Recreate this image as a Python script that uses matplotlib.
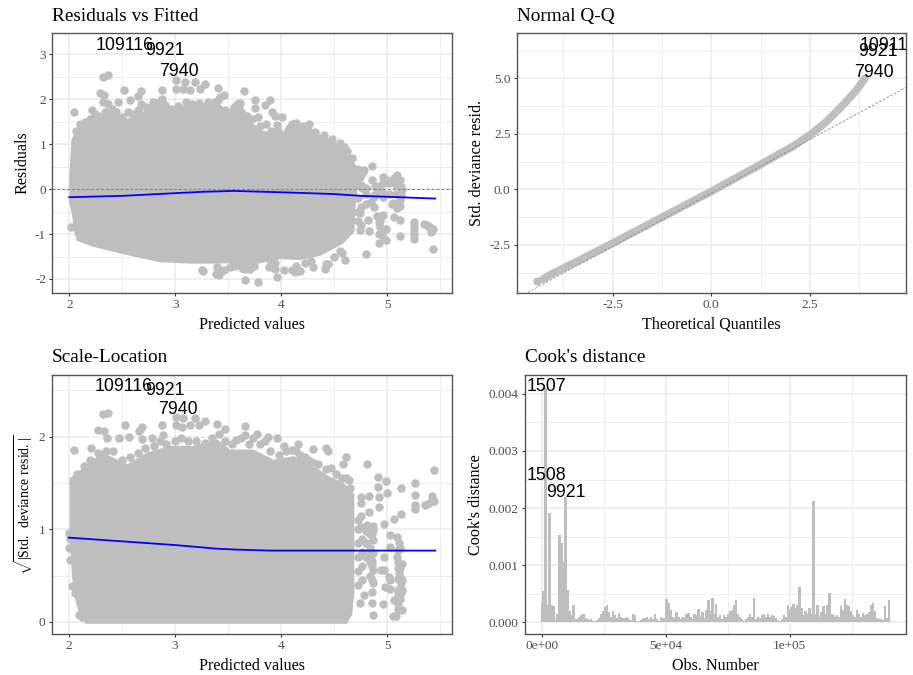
"""
Regression diagnostic panels: residuals, Q-Q, scale-location and Cook's distance.
"""

import numpy as np
import matplotlib
matplotlib.use('Agg')
import matplotlib.pyplot as plt

plt.rcParams['font.family'] = ['Liberation Serif', 'DejaVu Serif']
plt.rcParams['mathtext.fontset'] = 'custom'
plt.rcParams['mathtext.rm'] = 'Liberation Serif'

GREY = '#BEBEBE'
FIG_W, FIG_H = 913, 675

# Residuals vs Fitted: outline of the solid cloud
res_top_x = [2.0, 2.02, 2.1, 2.22, 2.38, 2.54, 2.69, 2.85, 2.98, 3.11, 3.26, 3.39, 3.49, 3.58, 3.68, 3.83, 3.99, 4.11, 4.25, 4.34, 4.49, 4.58, 4.68, 4.72, 4.77]
res_top_y = [0.3, 1.1, 1.5, 1.58, 1.72, 1.56, 1.72, 1.88, 1.74, 1.9, 1.88, 1.98, 1.72, 1.8, 1.55, 1.3, 1.23, 1.43, 1.43, 1.25, 1.07, 0.96, 0.67, 0.4, 0.0]
res_low_x = [2.0, 2.03, 2.04, 2.07, 2.22, 2.51, 2.86, 3.17, 3.3, 3.51, 3.66, 3.8, 3.99, 4.18, 4.37, 4.58, 4.69, 4.7, 4.72]
res_low_y = [-0.3, -0.62, -0.87, -1.15, -1.28, -1.45, -1.63, -1.66, -1.66, -1.65, -1.72, -1.65, -1.56, -1.58, -1.48, -1.22, -0.95, -0.4, 0.0]
# points standing out of the cloud
res_pts_x = [2.32, 2.37, 2.29, 2.33, 2.52, 2.68, 2.65, 2.04, 2.21, 2.24, 2.32, 2.37, 2.46, 2.57, 2.68, 2.79, 2.87, 2.87, 3.01, 3.01, 3.07, 3.09, 3.19, 3.28, 3.23, 3.14, 3.46, 3.4, 3.4, 3.31, 3.58, 3.65, 3.55, 3.61, 3.75, 3.75, 3.78, 3.85, 3.89, 3.91, 3.94, 4.01, 3.86, 3.96, 4.07, 4.59,
             2.06, 2.1, 2.15, 2.2, 2.27, 2.34, 2.4, 2.44, 2.5, 2.55, 2.6, 2.65, 2.72, 2.78, 2.83, 2.9, 2.96, 3.03, 3.1, 3.16, 3.22, 3.3, 3.37, 3.42, 3.47, 3.53, 3.6, 3.63, 3.68, 3.72, 3.8, 3.9, 3.97, 4.05, 4.1, 4.14, 4.2, 4.26, 4.32, 4.4, 4.48, 4.55, 4.62, 4.67, 4.72, 4.76,
             3.66, 3.78, 3.96, 3.41, 3.39, 3.52, 3.25, 3.66, 3.94, 4.03, 4.13, 4.18, 4.3, 4.41, 4.44, 4.57, 4.6, 2.02,
             3.26, 3.38, 3.42, 3.46, 3.55, 3.59, 3.63, 3.7, 3.74, 3.88, 3.9, 3.94, 4.1, 4.14, 4.22, 4.28, 4.42, 4.5, 4.55,
             4.74, 4.78, 4.86, 4.86, 4.96, 5.09, 5.12, 5.14, 5.12, 5.09, 5.04, 4.96, 4.93, 4.87, 4.87, 4.8, 4.96, 5.06, 5.12, 4.74, 4.82, 4.74, 4.83, 4.92, 4.96, 4.99, 4.92, 4.99, 4.92, 4.8, 5.12, 5.25, 5.25, 5.25, 5.35, 5.4, 5.43, 5.41, 5.43,
             4.75, 4.72, 4.75, 4.72, 4.75, 4.72, 4.76, 4.8, 4.88, 4.95, 5.02, 5.08, 5.13, 4.8, 4.88, 4.95, 5.02, 5.08, 5.13, 4.85, 5.05, 5.12, 5.0, 5.06, 5.1, 4.9, 4.93, 4.93, 4.95, 4.95, 5.25, 5.25, 5.37, 5.38]
res_pts_y = [2.5, 2.53, 2.13, 2.1, 2.2, 2.18, 2.08, 1.71, 1.76, 1.68, 1.94, 1.9, 1.94, 1.98, 1.9, 1.94, 2.01, 2.2, 2.42, 2.22, 2.22, 2.38, 2.38, 2.34, 2.22, 2.2, 2.1, 2.25, 1.98, 1.94, 1.9, 2.19, 1.83, 1.91, 1.98, 1.8, 1.61, 1.87, 1.98, 1.72, 1.63, 1.61, 1.46, 1.43, 1.37, 0.94,
             1.3, 1.45, 1.5, 1.55, 1.62, 1.72, 1.78, 1.72, 1.6, 1.72, 1.68, 1.75, 1.82, 1.85, 1.92, 1.88, 1.78, 1.85, 1.95, 1.9, 1.92, 1.88, 1.95, 2.05, 1.75, 1.72, 1.8, 1.7, 1.62, 1.55, 1.4, 1.3, 1.3, 1.28, 1.45, 1.48, 1.4, 1.45, 1.28, 1.2, 1.12, 1.02, 0.85, 0.7, 0.45, 0.35,
             -2.03, -2.06, -1.95, -1.92, -1.73, -1.73, -1.8, -1.77, -1.77, -1.79, -1.84, -1.82, -1.73, -1.77, -1.66, -1.43, -1.58, -0.84,
             -1.82, -1.88, -1.8, -1.8, -1.7, -1.68, -1.75, -1.77, -1.7, -1.73, -1.62, -1.65, -1.8, -1.72, -1.65, -1.6, -1.66, -1.5, -1.38,
             0.27, 0.42, 0.52, 0.2, 0.27, 0.31, 0.2, -0.02, -0.24, -0.43, -0.32, -0.17, -0.02, -0.17, -0.39, -0.32, -0.58, -0.62, -0.68, -0.54, -0.69, -0.91, -0.93, -0.76, -0.88, -0.88, -0.99, -1.14, -1.21, -1.45, -1.05, -0.73, -0.91, -1.1, -0.78, -0.84, -0.88, -0.95, -1.34,
             0.1, -0.2, -0.4, -0.7, -0.8, -0.5, 0.02, 0.02, 0.08, 0.12, 0.14, 0.1, 0.05, -0.1, -0.1, -0.08, -0.1, -0.1, -0.12, -0.28, -0.3, -0.38, 0.2, 0.24, 0.18, -0.6, -0.7, -0.85, -0.6, -1.02, -0.82, -1.0, -0.8, -0.82]
res_line_x = [2.0, 2.5, 3.0, 3.25, 3.55, 4.0, 4.5, 4.75, 5.0, 5.45]
res_line_y = [-0.18, -0.15, -0.09, -0.06, -0.04, -0.07, -0.11, -0.15, -0.17, -0.21]

# Normal Q-Q
qq_x = [-4.26, -4.09, -3.41, -2.5, -1.3, 0.0, 1.23, 2.08, 2.5, 2.92, 3.34, 3.68, 3.89]
qq_y = [-4.05, -3.86, -3.26, -2.43, -1.31, -0.1, 1.1, 1.95, 2.45, 3.05, 3.8, 4.47, 5.0]
qq_lone_x = [-4.42]
qq_lone_y = [-4.13]
qq_ref_x = [-4.93, 4.93]
qq_ref_y = [-4.92, 4.59]

# Scale-Location
sl_top_x = [2.01, 2.11, 2.23, 2.32, 2.55, 2.74, 2.95, 3.17, 3.4, 3.52, 3.74, 3.93, 4.12, 4.28, 4.44, 4.59, 4.69]
sl_top_y = [1.55, 1.64, 1.75, 1.83, 1.7, 1.83, 1.9, 1.9, 1.97, 1.86, 1.86, 1.75, 1.79, 1.7, 1.58, 1.5, 1.38]
sl_low_x = [2.01, 2.03, 2.06, 2.1, 2.16, 4.62, 4.67, 4.69]
sl_low_y = [0.9, 0.5, 0.25, 0.08, -0.02, -0.02, 0.08, 0.31]
sl_pts_x = [2.01, 2.0, 2.0, 2.01, 2.03, 2.05, 2.06, 2.32, 2.37, 2.28, 2.33, 2.53, 2.69, 2.66, 2.21, 2.36, 2.47, 2.57, 2.69, 2.78, 2.88, 2.89, 3.01, 3.08, 3.19, 3.28, 3.23, 3.14, 3.01, 3.07, 3.4, 3.47, 3.66, 3.66, 3.77, 3.74, 3.88, 3.96, 3.85, 4.03, 4.16, 4.14, 4.3, 4.42, 4.44, 4.23, 4.29, 4.47, 4.61, 4.58, 4.61, 4.64,
            2.04, 2.08, 2.14, 2.2, 2.28, 2.35, 2.42, 2.5, 2.58, 2.65, 2.72, 2.8, 2.86, 2.92, 3.0, 3.06, 3.12, 3.2, 3.28, 3.35, 3.42, 3.47, 3.54, 3.58, 3.62, 3.7, 3.8, 3.9, 3.98, 4.05, 4.1, 4.18, 4.25, 4.35, 4.42, 4.52, 4.57, 4.65,
            4.81, 4.91, 4.99, 4.91, 5.0, 4.92, 4.83, 4.75, 4.75, 5.13, 5.26, 5.26, 5.26, 5.26, 5.44, 5.42, 5.44, 5.36, 5.39, 5.13, 5.06, 4.97, 4.92, 4.83, 4.75, 4.81, 4.87, 5.03, 5.09, 5.11, 5.03, 4.87, 4.87, 4.97, 5.09, 5.14, 5.11, 4.97, 5.02, 5.13, 4.98, 5.13, 5.06, 5.14, 4.96, 4.78, 4.87, 5.05, 5.08, 4.87, 4.87,
            4.72, 4.72, 4.72, 4.72, 4.72, 4.76, 4.76, 4.76, 4.76, 4.8, 4.8, 4.84, 4.84, 4.84, 4.84, 4.72, 4.74, 4.86, 4.86, 4.87, 5.12, 5.12, 5.14, 5.12, 5.1, 5.1, 5.12, 5.14,
            4.86, 4.86, 4.86, 4.86, 5.1, 5.1, 5.1, 5.1, 5.1, 5.1, 5.03, 5.03, 4.94, 4.75, 4.8, 4.84, 2.1, 2.13]
sl_pts_y = [0.9, 0.96, 0.8, 0.67, 0.39, 1.86, 0.31, 2.24, 2.26, 2.07, 2.06, 2.12, 2.1, 2.06, 1.88, 1.98, 1.98, 2.0, 1.97, 1.99, 2.12, 2.02, 2.21, 2.2, 2.2, 2.17, 2.13, 2.13, 2.12, 2.1, 2.14, 2.08, 2.11, 2.02, 2.03, 1.98, 2.0, 1.98, 1.95, 1.9, 1.92, 1.84, 1.87, 1.88, 1.84, 1.78, 1.73, 1.66, 1.78, 1.7, 1.55, 1.53,
            1.5, 1.6, 1.68, 1.75, 1.82, 1.85, 1.85, 1.75, 1.78, 1.82, 1.88, 1.9, 1.95, 1.92, 1.95, 1.98, 1.95, 1.95, 1.93, 1.98, 2.03, 1.95, 1.92, 1.96, 1.98, 1.92, 1.92, 1.84, 1.8, 1.85, 1.86, 1.8, 1.75, 1.7, 1.65, 1.6, 1.55, 1.45,
            1.7, 1.56, 1.52, 1.46, 1.39, 1.35, 1.36, 1.35, 1.28, 1.45, 1.5, 1.37, 1.26, 1.22, 1.64, 1.36, 1.3, 1.26, 1.28, 1.17, 1.11, 1.06, 1.24, 1.19, 1.14, 1.05, 0.99, 0.94, 0.92, 0.85, 0.81, 0.88, 0.74, 0.7, 0.7, 0.63, 0.53, 0.56, 0.49, 0.42, 0.38, 0.31, 0.24, 0.13, 0.19, 0.29, 0.08, 0.06, 0.06, 0.56, 0.42,
            0.4, 0.55, 0.7, 0.85, 1.0, 0.45, 0.6, 0.75, 0.9, 0.7, 0.85, 0.8, 0.95, 0.65, 0.5, 1.1, 0.2, 0.66, 0.95, 1.03, 0.58, 0.48, 0.35, 0.8, 0.35, 0.65, 0.25, 0.45,
            0.6, 0.45, 0.32, 0.2, 0.78, 0.58, 0.46, 0.3, 0.2, 0.14, 0.45, 0.36, 0.56, 1.02, 0.98, 0.72, 0.08, 0.05]
sl_line_x = [2.0, 2.5, 3.0, 3.4, 3.6, 3.9, 5.45]
sl_line_y = [0.91, 0.87, 0.83, 0.79, 0.78, 0.77, 0.77]

# Cook's distance, in units of 0.001, one bar every 800 observations
cook_step = 800
cook_vals = [
    .35, .55, 4.1, .3, 1.92, .3, .28, .05, .15, 1.52,
    1.38, 1.05, 2.2, .57, .2, .12, .3, .05, .06, .1,
    .12, .15, .08, .06, .04, .05, .03, .02, .04, .08,
    .15, .2, .27, .3, .18, .1, .2, .12, .08, .16,
    .1, .08, .07, .1, .06, .04, .14, .12, .03, .02,
    .04, .08, .07, .09, .06, .1, .05, .15, .06, .02,
    .1, .08, .07, .4, .33, .22, .1, .07, .18, .09,
    .06, .1, .08, .14, .17, .1, .05, .15, .12, .24,
    .1, .18, .08, .22, .39, .2, .42, .15, .32, .1,
    .12, .06, .12, .1, .14, .2, .22, .3, .39, .15,
    .1, .06, .03, .05, .1, .15, .1, .42, .05, .1,
    .08, .12, .14, .1, .14, .1, .13, .11, .07, .04,
    .03, .05, .13, .1, .3, .22, .27, .32, .25, .3,
    .62, .25, .12, .2, .15, .25, .15, 2.12, .14, .3,
    .1, .18, .28, .15, .3, .52, .14, .12, .1, .12,
    .1, .28, .22, .4, .3, .28, .2, .13, .1, .22,
    .15, .1, .17, .12, .15, .18, .3, .33, .2, .08,
    .05, .06, .04, .28, .07, .39,
]

res_labels = ['109116', '9921', '7940']
res_label_x = [2.52, 2.9, 3.03]
res_label_y = [3.19, 3.08, 2.61]
qq_labels = ['109116', '9921', '7940']
qq_label_x = [4.49, 4.23, 4.13]
qq_label_y = [6.5, 6.2, 5.27]
sl_labels = ['109116', '9921', '7940']
sl_label_x = [2.52, 2.91, 3.03]
sl_label_y = [2.54, 2.5, 2.29]
cook_labels = ['1507', '1508', '9921']
cook_label_x = [1750, 1750, 9810]
cook_label_y = [0.00413, 0.00257, 0.00228]


# make an axes from pixel edges and give it the ggplot theme_bw look
def panel(left, right, top, bottom, xlim, ylim, xticks, xlabels, yticks, ylabels, title, xlabel, ylabel, ylabel_size=11.6):
    ax = fig.add_axes([left / FIG_W, 1 - bottom / FIG_H, (right - left) / FIG_W, (bottom - top) / FIG_H])
    ax.set_xlim(xlim)
    ax.set_ylim(ylim)
    ax.set_xticks(xticks, xlabels)
    ax.set_yticks(yticks, ylabels)
    # minor gridlines sit half a break away from the major ones
    xgap = (xticks[1] - xticks[0]) / 2
    ygap = (yticks[1] - yticks[0]) / 2
    xminor = [v - xgap for v in xticks] + [xticks[-1] + xgap]
    yminor = [v - ygap for v in yticks] + [yticks[-1] + ygap]
    ax.set_xticks([v for v in xminor if xlim[0] < v < xlim[1]], minor=True)
    ax.set_yticks([v for v in yminor if ylim[0] < v < ylim[1]], minor=True)
    ax.grid(True, which='major', color='#EBEBEB', lw=1.1)
    ax.grid(True, which='minor', color='#EBEBEB', lw=0.6)
    ax.set_axisbelow(True)
    ax.tick_params(which='minor', length=0)
    ax.tick_params(which='major', length=2.5, width=0.8, color='#333333', labelcolor='#4D4D4D', labelsize=9.5, pad=2)
    for s in ax.spines.values():
        s.set_color('#555555')
        s.set_linewidth(1.0)
    ax.set_xlabel(xlabel, fontsize=11.6, labelpad=4)
    ax.set_ylabel(ylabel, fontsize=ylabel_size, labelpad=3)
    ax.set_title(title, loc='left', fontsize=13.9, pad=9)
    return ax


def add_labels(ax, names, xs, ys):
    for name, x, y in zip(names, xs, ys):
        ax.text(x, y, name, ha='center', va='center', fontsize=12.8, family='Liberation Sans', clip_on=True, color='black', zorder=5)


def draw_cloud(ax, top_x, top_y, low_x, low_y, pts_x, pts_y):
    ax.fill(list(top_x) + list(low_x)[::-1], list(top_y) + list(low_y)[::-1], color=GREY, lw=0, zorder=2)
    ax.scatter(pts_x, pts_y, s=37, color=GREY, linewidths=0, zorder=2)


fig = plt.figure(figsize=(FIG_W / 100, FIG_H / 100), dpi=100)

# top left
ax1 = panel(52.3, 451.7, 33.3, 292.7, (1.84, 5.607), (-2.305, 3.468), [2, 3, 4, 5], ['2', '3', '4', '5'],
            [-2, -1, 0, 1, 2, 3], ['-2', '-1', '0', '1', '2', '3'], 'Residuals vs Fitted', 'Predicted values', 'Residuals')
draw_cloud(ax1, res_top_x, res_top_y, res_low_x, res_low_y, res_pts_x, res_pts_y)
ax1.axhline(0, color='#7F7F7F', lw=0.7, ls=(0, (3, 2)), zorder=3)
ax1.plot(res_line_x, res_line_y, color='blue', lw=1.3, zorder=4)
add_labels(ax1, res_labels, res_label_x, res_label_y)

# top right
ax2 = panel(516.7, 906, 33.3, 292.7, (-4.93, 4.934), (-4.66, 7.03), [-2.5, 0, 2.5], ['-2.5', '0.0', '2.5'],
            [-2.5, 0, 2.5, 5], ['-2.5', '0.0', '2.5', '5.0'], 'Normal Q-Q', 'Theoretical Quantiles', 'Std. deviance resid.')
ax2.plot(qq_x, qq_y, color=GREY, lw=5.6, solid_capstyle='round', zorder=2)
ax2.scatter(qq_lone_x, qq_lone_y, s=37, color=GREY, linewidths=0, zorder=2)
ax2.plot(qq_ref_x, qq_ref_y, color='#8C8C8C', lw=0.6, ls=(0, (3, 2)), zorder=3)
add_labels(ax2, qq_labels, qq_label_x, qq_label_y)

# bottom left
ax3 = panel(51.7, 451.7, 374.7, 634, (1.84, 5.607), (-0.13, 2.668), [2, 3, 4, 5], ['2', '3', '4', '5'],
            [0, 1, 2], ['0', '1', '2'], 'Scale-Location', 'Predicted values', r'$\sqrt{\mathrm{|Std.\ deviance\ resid.|}}$', ylabel_size=10.0)
draw_cloud(ax3, sl_top_x, sl_top_y, sl_low_x, sl_low_y, sl_pts_x, sl_pts_y)
ax3.plot(sl_line_x, sl_line_y, color='blue', lw=1.3, zorder=4)
add_labels(ax3, sl_labels, sl_label_x, sl_label_y)

# bottom right
ax4 = panel(524.7, 906, 374.7, 634, (-6855, 146900), (-0.000205, 0.004336), [0, 50000, 100000], ['0e+00', '5e+04', '1e+05'],
            [0, 0.001, 0.002, 0.003, 0.004], ['0.000', '0.001', '0.002', '0.003', '0.004'], "Cook's distance", 'Obs. Number', "Cook's distance")
cook_obs = np.arange(len(cook_vals)) * cook_step
ax4.bar(cook_obs, np.array(cook_vals) / 1000, width=cook_step * 1.2, color=GREY, linewidth=0, zorder=2)
add_labels(ax4, cook_labels, cook_label_x, cook_label_y)

fig.savefig('out.png', dpi=100)
